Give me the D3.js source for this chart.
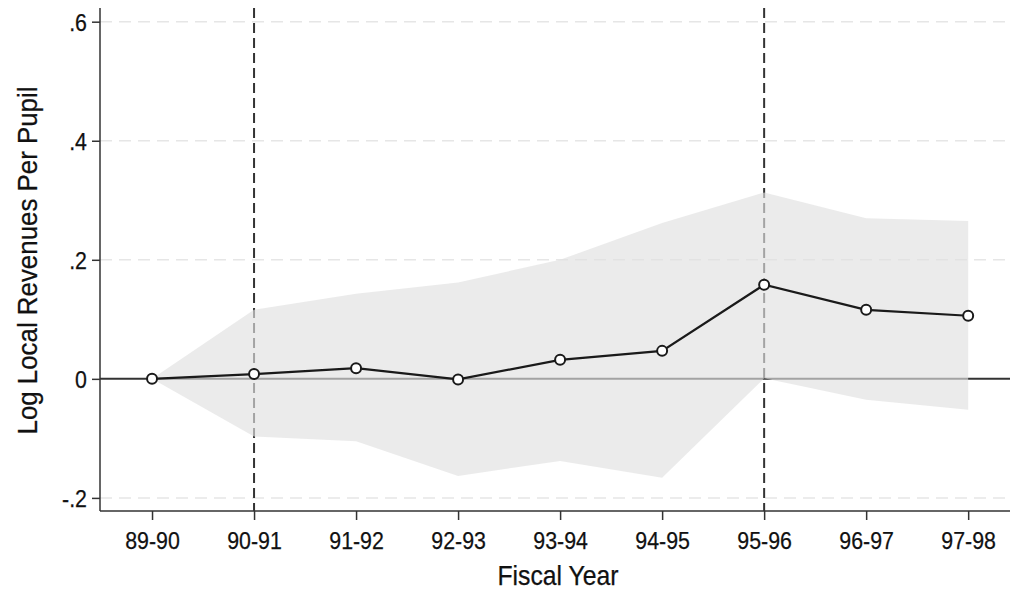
<!DOCTYPE html>
<html>
<head>
<meta charset="utf-8">
<script src="https://cdn.jsdelivr.net/npm/d3@7"></script>
<style>
  html, body { margin: 0; padding: 0; background: #fff; }
  svg { display: block; }
  text { font-family: "Liberation Sans", Arial, Helvetica, sans-serif; fill: #111; }
</style>
</head>
<body>
<svg id="chart" width="1012" height="590"></svg>
<script>
// ---- data ----
const categories = ["89-90", "90-91", "91-92", "92-93", "93-94", "94-95", "95-96", "96-97", "97-98"];
const estimates  = [0, 0.008, 0.018, -0.001, 0.032, 0.047, 0.158, 0.116, 0.106];
const ciUpper    = [0, 0.116, 0.143, 0.162, 0.200, 0.262, 0.313, 0.270, 0.265];
const ciLower    = [0, -0.097, -0.105, -0.163, -0.138, -0.166, 0.001, -0.035, -0.052];
const yTicks     = [-0.2, 0, 0.2, 0.4, 0.6];
const yTickLabels = ["-.2", "0", ".2", ".4", ".6"];
const gridValues = [-0.2, 0.2, 0.4, 0.6];
const eventLines = ["90-91", "95-96"];
const xTitle = "Fiscal Year";
const yTitle = "Log Local Revenues Per Pupil";

(function () {
// ---- layout ----
const pL = 100, pR = 1010, pT = 8, pB = 511;
const svg = d3.select("#chart");

const x = d3.scaleLinear().domain([-0.51, 8.41]).range([pL, pR]);
const y = d3.scaleLinear().domain([-0.222, 0.623]).range([pB, pT]);
const xi = c => x(categories.indexOf(c));

// gridlines
svg.append("g").selectAll("line").data(gridValues).join("line")
  .attr("x1", pL).attr("x2", pR - 4)
  .attr("y1", d => y(d)).attr("y2", d => y(d))
  .attr("stroke", "#e6e6e6").attr("stroke-width", 1.5)
  .attr("stroke-dasharray", "12,7");

// zero line
svg.append("line")
  .attr("x1", pL).attr("x2", pR)
  .attr("y1", y(0)).attr("y2", y(0))
  .attr("stroke", "#333").attr("stroke-width", 2);

// event dashed vertical lines
svg.append("g").selectAll("line").data(eventLines).join("line")
  .attr("x1", d => xi(d)).attr("x2", d => xi(d))
  .attr("y1", pT).attr("y2", pB)
  .attr("stroke", "#333").attr("stroke-width", 2)
  .attr("stroke-dasharray", "10,5");

// CI band
const bandData = categories.map((c, i) => ({ i, lo: ciLower[i], hi: ciUpper[i] }));
svg.append("path")
  .datum(bandData)
  .attr("d", d3.area().x(d => x(d.i)).y0(d => y(d.lo)).y1(d => y(d.hi)))
  .attr("fill", "rgb(224,224,224)").attr("fill-opacity", 0.65);

// axes
const yAxis = d3.axisLeft(y).tickValues(yTicks)
  .tickFormat((d, i) => yTickLabels[i]).tickSize(8).tickPadding(5);
const gy = svg.append("g").attr("transform", `translate(${pL},0)`).call(yAxis);
gy.select(".domain").attr("d", `M0,${pT}V${pB}`);

const xAxis = d3.axisBottom(x).tickValues(d3.range(categories.length))
  .tickFormat(i => categories[i]).tickSize(9).tickPadding(12);
const gx = svg.append("g").attr("transform", `translate(0,${pB})`).call(xAxis);
gx.select(".domain").attr("d", `M${pL},0H${pR}`);

[gx, gy].forEach(g => {
  g.select(".domain").attr("stroke", "#333").attr("stroke-width", 1.5);
  g.selectAll(".tick line").attr("stroke", "#333").attr("stroke-width", 1.5);
  g.selectAll(".tick text").attr("font-size", 24).attr("fill", "#111")
    .attr("stroke", "#111").attr("stroke-width", 0.25)
    .attr("font-family", "'Liberation Sans', Arial, sans-serif");
});
gy.selectAll(".tick text").attr("dy", "0.36em");
gx.selectAll(".tick text").attr("dy", "0.70em");

// condense tick label glyphs horizontally
svg.selectAll(".tick text").each(function () {
  const w = this.getComputedTextLength();
  d3.select(this).attr("textLength", w * 0.89).attr("lengthAdjust", "spacingAndGlyphs");
});

// estimate line
const pts = categories.map((c, i) => ({ i, v: estimates[i] }));
svg.append("path").datum(pts)
  .attr("d", d3.line().x(d => x(d.i)).y(d => y(d.v)))
  .attr("fill", "none").attr("stroke", "#1a1a1a").attr("stroke-width", 2.2);

svg.append("g").selectAll("circle").data(pts).join("circle")
  .attr("cx", d => x(d.i)).attr("cy", d => y(d.v)).attr("r", 5)
  .attr("fill", "#fff").attr("stroke", "#1a1a1a").attr("stroke-width", 2);

// titles
svg.append("text")
  .attr("x", (pL + pR) / 2 + 3).attr("y", 585)
  .attr("text-anchor", "middle").attr("font-size", 28)
  .attr("stroke", "#111").attr("stroke-width", 0.25)
  .attr("textLength", 121).attr("lengthAdjust", "spacingAndGlyphs")
  .text(xTitle);

svg.append("text")
  .attr("transform", `translate(37,${(pT + pB) / 2 + 1}) rotate(-90)`)
  .attr("text-anchor", "middle").attr("font-size", 28)
  .attr("stroke", "#111").attr("stroke-width", 0.25)
  .attr("textLength", 348).attr("lengthAdjust", "spacingAndGlyphs")
  .text(yTitle);
})();
</script>
</body>
</html>
